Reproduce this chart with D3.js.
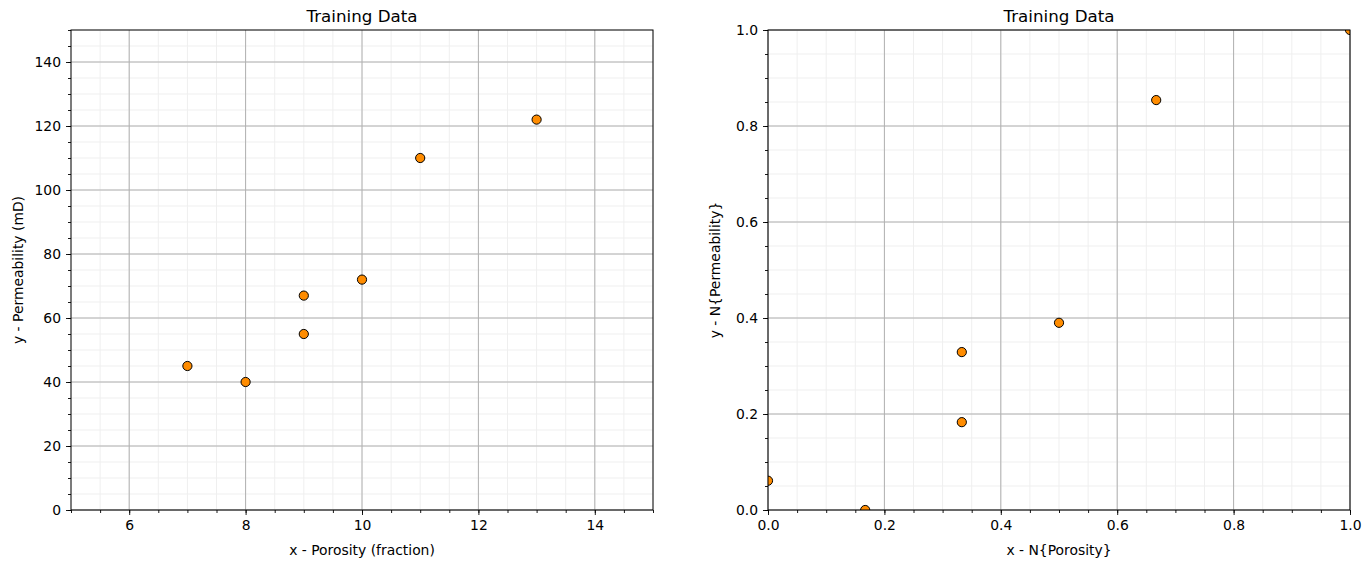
<!DOCTYPE html>
<html><head><meta charset="utf-8">
<script src="https://cdn.jsdelivr.net/npm/d3@7"></script>
<style>
body{margin:0;background:#fff;}
text{font-family:"DejaVu Sans",sans-serif;fill:#000;}
</style></head>
<body>
<svg id="chart" width="1371" height="568"></svg>
<script>
// Data
const porosity = [7, 8, 9, 9, 10, 11, 13];
const permeability = [45, 40, 55, 67, 72, 110, 122];
const nPorosity = [0.0, 0.167, 0.333, 0.333, 0.5, 0.667, 1.0];
const nPermeability = [0.061, 0.0, 0.183, 0.329, 0.390, 0.854, 1.0];
const leftXTicks = [6, 8, 10, 12, 14];
const leftYTicks = [0, 20, 40, 60, 80, 100, 120, 140];
const rightTicks = [0.0, 0.2, 0.4, 0.6, 0.8, 1.0];

const svg = d3.select("#chart");

function panel(cfg) {
  const {left, top, w, h, xDom, yDom, xTicks, yTicks, xMinorStep, yMinorStep, xs, ys, xFmt, yFmt, title, xLabel, yLabel, id} = cfg;
  const x = d3.scaleLinear().domain(xDom).range([0, w]);
  const y = d3.scaleLinear().domain(yDom).range([h, 0]);
  const g = svg.append("g").attr("transform", `translate(${left},${top})`);
  g.append("defs").append("clipPath").attr("id", id).append("rect").attr("width", w).attr("height", h);

  const minorX = d3.range(xDom[0], xDom[1] + 1e-9, xMinorStep).map(v => +v.toFixed(6));
  const minorY = d3.range(yDom[0], yDom[1] + 1e-9, yMinorStep).map(v => +v.toFixed(6));

  // minor grid
  g.append("g").selectAll("line").data(minorX).join("line")
    .attr("x1", d => x(d)).attr("x2", d => x(d)).attr("y1", 0).attr("y2", h)
    .attr("stroke", "#efefef").attr("stroke-width", 1);
  g.append("g").selectAll("line").data(minorY).join("line")
    .attr("y1", d => y(d)).attr("y2", d => y(d)).attr("x1", 0).attr("x2", w)
    .attr("stroke", "#efefef").attr("stroke-width", 1);
  // major grid
  g.append("g").selectAll("line").data(xTicks).join("line")
    .attr("x1", d => x(d)).attr("x2", d => x(d)).attr("y1", 0).attr("y2", h)
    .attr("stroke", "#b0b0b0").attr("stroke-width", 1);
  g.append("g").selectAll("line").data(yTicks).join("line")
    .attr("y1", d => y(d)).attr("y2", d => y(d)).attr("x1", 0).attr("x2", w)
    .attr("stroke", "#b0b0b0").attr("stroke-width", 1);

  // points
  g.append("g").attr("clip-path", `url(#${id})`).selectAll("circle").data(xs.map((v, i) => [v, ys[i]])).join("circle")
    .attr("cx", d => x(d[0])).attr("cy", d => y(d[1])).attr("r", 4.6)
    .attr("fill", "#ff8c00").attr("stroke", "#000").attr("stroke-width", 1);

  // axes
  const xAxis = d3.axisBottom(x).tickValues(xTicks).tickFormat(xFmt).tickSize(5).tickPadding(5);
  const yAxis = d3.axisLeft(y).tickValues(yTicks).tickFormat(yFmt).tickSize(5).tickPadding(5);
  const xa = g.append("g").attr("transform", `translate(0,${h})`).call(xAxis);
  const ya = g.append("g").call(yAxis);
  const xm = g.append("g").attr("transform", `translate(0,${h})`).call(d3.axisBottom(x).tickValues(minorX).tickSize(3).tickFormat(""));
  const ym = g.append("g").call(d3.axisLeft(y).tickValues(minorY).tickSize(3).tickFormat(""));
  [xa, ya, xm, ym].forEach(a => {
    a.select(".domain").remove();
    a.selectAll("line").attr("stroke", "#000").attr("stroke-width", 0.9);
    a.selectAll("text").attr("font-size", "13.9px").attr("font-family", "DejaVu Sans").attr("fill", "#000");
  });
  // frame
  g.append("rect").attr("width", w).attr("height", h).attr("fill", "none").attr("stroke", "#000").attr("stroke-width", 1);

  g.append("text").attr("x", w / 2).attr("y", -8).attr("text-anchor", "middle").attr("font-size", "16.7px").text(title);
  g.append("text").attr("x", w / 2).attr("y", h + 45).attr("text-anchor", "middle").attr("font-size", "13.9px").text(xLabel);
  g.append("text").attr("transform", `translate(-48,${h / 2}) rotate(-90)`).attr("text-anchor", "middle").attr("font-size", "13.9px").text(yLabel);
}

panel({id: "c1", left: 71, top: 30, w: 582, h: 480, xDom: [5, 15], yDom: [0, 150],
  xTicks: leftXTicks, yTicks: leftYTicks, xMinorStep: 0.5, yMinorStep: 5,
  xs: porosity, ys: permeability, xFmt: d3.format("d"), yFmt: d3.format("d"),
  title: "Training Data", xLabel: "x - Porosity (fraction)", yLabel: "y - Permeability (mD)"});

panel({id: "c2", left: 768, top: 30, w: 582, h: 480, xDom: [0, 1], yDom: [0, 1],
  xTicks: rightTicks, yTicks: rightTicks, xMinorStep: 0.05, yMinorStep: 0.05,
  xs: nPorosity, ys: nPermeability, xFmt: d3.format(".1f"), yFmt: d3.format(".1f"),
  title: "Training Data", xLabel: "x - N{Porosity}", yLabel: "y - N{Permeability}"});
</script>
</body></html>
